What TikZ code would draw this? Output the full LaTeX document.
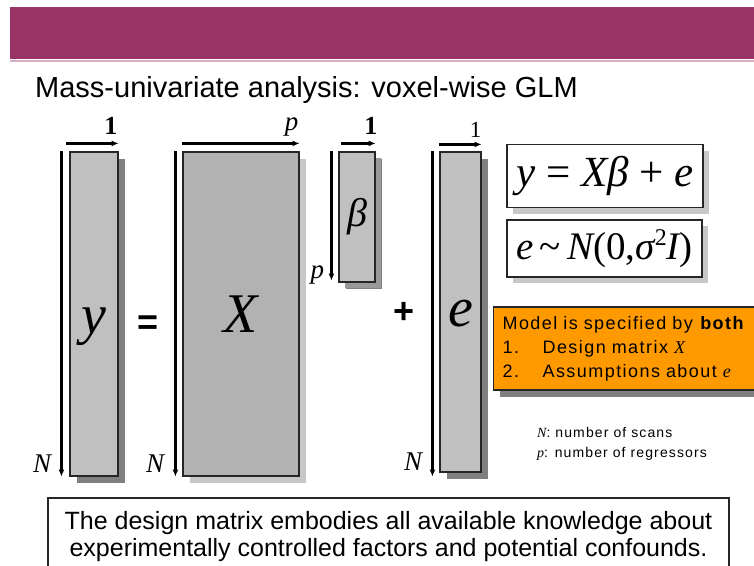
\documentclass[tikz,border=0pt]{standalone}
\usepackage{fontspec}
\setmainfont{Liberation Sans}
\newfontfamily\tms{Liberation Serif}
\usetikzlibrary{arrows.meta,positioning,calc,shadows}
\definecolor{slide}{HTML}{993366}
\definecolor{colgray}{HTML}{C0C0C0}
\definecolor{desgray}{HTML}{B2B2B2}
\definecolor{specorange}{HTML}{FF9900}
\newcommand{\sz}[2]{\fontsize{#1}{#2}\selectfont}
\newcommand{\mv}[1]{{\tms\itshape #1}}

\begin{document}
\begin{tikzpicture}[x=1pt,y=-1pt,
 mat/.style={draw=black!85,line width=1.2pt,fill=colgray,inner sep=0pt,
   font=\tms\itshape\sz{56}{56},
   drop shadow={shadow xshift=7pt,shadow yshift=-7pt,fill=black!50,opacity=1}},
 lite/.style={drop shadow={shadow xshift=7pt,shadow yshift=-7pt,fill=black!22,opacity=1}},
 eqn/.style={draw=black!85,line width=1.2pt,fill=white,inner sep=0pt,font=\tms\sz{43}{43},
   drop shadow={shadow xshift=6pt,shadow yshift=-6pt,fill=black!22,opacity=1}},
 dim/.style={line width=2.3pt,-{Latex[length=7pt,width=6pt]}},
 lbl/.style={font=\tms\itshape\sz{27}{27},inner sep=0pt},
 one/.style={font=\tms\bfseries\sz{26}{26},inner sep=0pt,anchor=base east},
 op/.style={font=\bfseries\sz{36}{36},inner sep=0pt}]
\useasboundingbox (0,0) rectangle (754,565);
\fill[slide] (10,7) rectangle (754,59);
\draw[slide!40,line width=1.5pt] (10,61) -- (754,61);
\node[anchor=base west,font=\sz{29}{29},inner sep=0pt] (title) at (35,97) {Mass-univariate analysis: voxel-wise GLM};

\node[mat,minimum width=48pt,minimum height=324pt] (y) at (94,314) {\raisebox{-19pt}[0pt][0pt]{y}};
\node[mat,fill=desgray,lite,minimum width=116pt,minimum height=324pt] (X) at (241,314) {X};
\node[mat,font=\tms\itshape\sz{40}{40},minimum width=36pt,minimum height=130pt,
  drop shadow={shadow xshift=6pt,shadow yshift=-6pt,fill=black!40,opacity=1}] (b) at (357,217) {β};
\node[mat,minimum width=41pt,minimum height=320pt] (e) at (460.5,312) {\raisebox{-14pt}[0pt][0pt]{e}};
\node[op] (eq) at (148,325) {=};
\node[op] (plus) at (404,313) {+};

\draw[dim] ([xshift=-8pt]y.north west) -- ([xshift=-8pt]y.south west);
\draw[dim] ([xshift=-3pt,yshift=8pt]y.north west) -- ([yshift=8pt]y.north east);
\node[one] at ([xshift=-1pt,yshift=17pt]y.north east) {1};
\node[lbl,anchor=base east] at ([xshift=-18pt,yshift=4pt]y.south west) {N};

\draw[dim] ([xshift=-7pt]X.north west) -- ([xshift=-7pt]X.south west);
\draw[dim] ([yshift=8pt]X.north west) -- ([yshift=8pt]X.north east);
\node[lbl,anchor=base east] at ([xshift=-1pt,yshift=21pt]X.north east) {p};
\node[lbl,anchor=base east] at ([xshift=-18pt,yshift=4pt]X.south west) {N};

\draw[dim] ([xshift=-7pt]b.north west) -- ([xshift=-7pt,yshift=2pt]b.south west);
\draw[dim] ([xshift=3pt,yshift=8pt]b.north west) -- ([yshift=8pt]b.north east);
\node[one] at ([xshift=2pt,yshift=17pt]b.north east) {1};
\node[lbl,anchor=base east] at ([xshift=-14pt,yshift=4pt]b.south west) {p};

\draw[dim] ([xshift=-7pt]e.north west) -- ([xshift=-7pt,yshift=-4pt]e.south west);
\draw[dim] ([yshift=7pt]e.north west) -- ([yshift=7pt]e.north east);
\node[one,font=\tms\sz{23}{23}] at ([yshift=14pt]e.north east) {1};
\node[lbl,anchor=base east] at ([xshift=-17pt,yshift=2pt]e.south west) {N};

\node[eqn,minimum width=196pt,minimum height=63pt] (model) at (605,176) {\mv{y} = \mv{Xβ} + \mv{e}};
\node[eqn,font=\tms\sz{39}{39},minimum width=195pt,minimum height=57pt] (noise) at (604.5,248.5)
  {\mv{e}\,\textasciitilde\,\mv{N}(0,\mv{σ}\raisebox{14pt}{\sz{24}{24}2}\mv{I})};

\node[draw=black!85,line width=1.2pt,fill=specorange,anchor=west,inner xsep=9pt,inner ysep=0pt,
  minimum height=83pt,text width=245pt,align=left,font=\addfontfeature{LetterSpace=8}\sz{18}{24},
  drop shadow={shadow xshift=6pt,shadow yshift=-7pt,fill=black!50,opacity=1}] (spec) at (493,348.5)
  {Model is specified by \textbf{both}\\
   \makebox[40pt][l]{1.}Design matrix \mv{X}\\
   \makebox[40pt][l]{2.}Assumptions about \mv{e}};

\node[anchor=base west,align=left,inner sep=0pt,font=\addfontfeature{LetterSpace=8}\sz{14}{19.5}] (legend) at (537,457)
  {\mv{N}: number of scans\\\mv{p}: number of regressors};

\node[draw=black!85,line width=1.2pt,minimum width=681pt,minimum height=77pt,align=center,
  font=\sz{25}{27}] (note) at (388.5,536.5)
  {The design matrix embodies all available knowledge about\\experimentally controlled factors and potential confounds.};
\end{tikzpicture}
\end{document}
